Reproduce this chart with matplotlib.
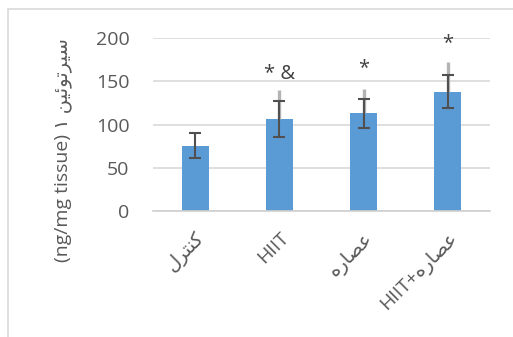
import matplotlib.pyplot as plt
from matplotlib.patches import Rectangle

plt.rcParams['font.family'] = ['Open Sans', 'DejaVu Sans']

# group labels, written in presentation forms (visual order) so the Persian shapes join
groups = ['\uFEDD\uFEAE\uFE98\uFEE8\uFB90',
          'HIIT',
          '\uFEE9\uFEAD\uFE8E\uFEBC\uFECB',
          'HIIT+\uFEE9\uFEAD\uFE8E\uFEBC\uFECB']
means = [75.5, 106.5, 113, 138]
sd = [14.5, 21, 17, 19]
upper = [None, 140, 141, 172]
marks = ['', '* &', '*', '*']
mark_y = [None, 159, 166, 195]

ylabel = '(ng/mg tissue) \u06F1 \uFEE6\uFEF4\uFE8B\uFEEE\uFE97\uFEAE\uFEF4\uFEB3'

fig = plt.figure(figsize=(5.13, 3.37), dpi=100)
ax = fig.add_axes([153 / 513, 1 - 211 / 337, 337 / 513, 172.7 / 337])

x = range(len(groups))
ax.bar(x, means, width=0.32, color='#5b9bd5', zorder=2)

for i, top in enumerate(upper):
    if top is not None:
        ax.plot([i, i], [means[i], top], color='#b4b4b4', lw=2.4, zorder=3,
                solid_capstyle='butt')
ax.errorbar(x, means, yerr=sd, fmt='none', ecolor='#505050', elinewidth=1.5,
            capsize=4.5, capthick=1.5, zorder=4)

for i, m in enumerate(marks):
    if m:
        ax.text(i, mark_y[i], m, ha='center', va='center', fontsize=14.5,
                color='#404040')

ax.set_xlim(-0.5, 3.5)
ax.set_ylim(0, 200)
ax.set_yticks([0, 50, 100, 150, 200])
ax.yaxis.grid(True, color='#d9d9d9', lw=1.2, zorder=0)
ax.set_axisbelow(True)
for s in ['top', 'right', 'left']:
    ax.spines[s].set_visible(False)
ax.spines['bottom'].set_color('#d0d0d0')
ax.spines['bottom'].set_linewidth(1.2)
ax.tick_params(axis='both', length=0, labelsize=14, labelcolor='#595959')
ax.tick_params(axis='y', pad=17)
ax.set_xticks(list(x))
ax.set_xticklabels(groups, rotation=45, ha='right', rotation_mode='anchor')
ax.tick_params(axis='x', pad=13)
ax.set_ylabel(ylabel, fontsize=14, color='#595959')
ax.yaxis.set_label_coords(-0.24, 0.35)

fig.patches.append(Rectangle((8 / 513, -0.1), 1.2, 1 - 9.3 / 337 + 0.1,
                             transform=fig.transFigure, fill=False,
                             edgecolor='#d9d9d9', lw=1.2))

fig.savefig('out.png', dpi=100)
